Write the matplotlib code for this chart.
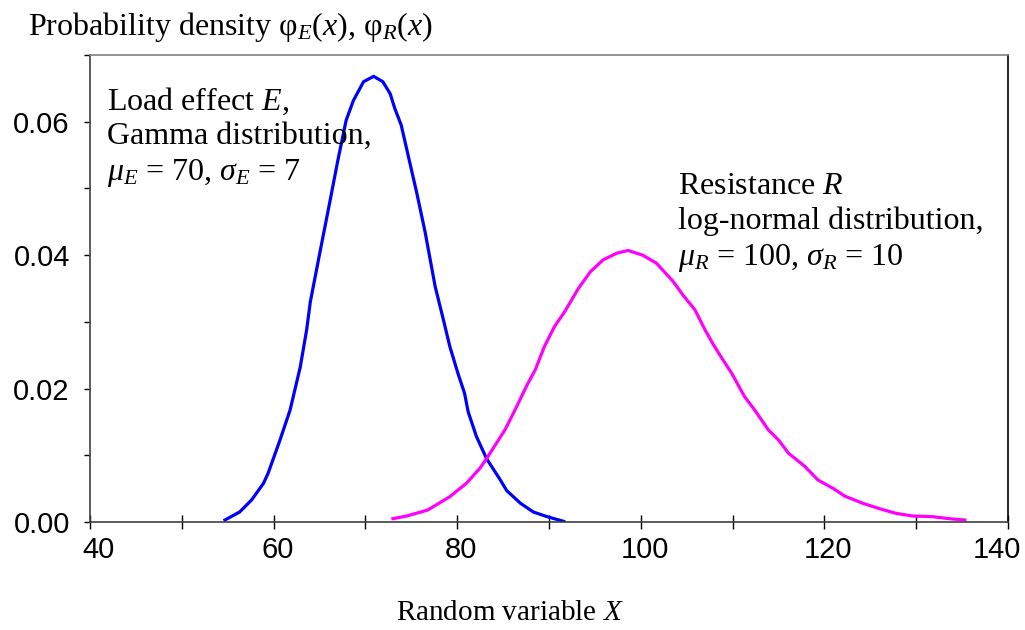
import matplotlib.pyplot as plt
import matplotlib.transforms as mtransforms
from matplotlib.ticker import MultipleLocator

# Load effect E (gamma)
xE = [54.7, 56.3, 57.6, 58.9, 59.4, 60.7, 61.8, 62.9, 63.6, 64.0, 65.1, 66.1,
      67.0, 67.9, 68.7, 69.8, 70.9, 71.9, 72.7, 73.2, 73.9, 74.7, 75.6, 76.5,
      77.6, 78.5, 79.2, 80.1, 80.8, 81.2, 82.1, 83.2, 84.7, 85.4, 86.9,
      88.3, 89.8, 91.6]
yE = [0.0003, 0.0015, 0.0033, 0.0058, 0.0073, 0.0123, 0.0168, 0.0232, 0.0288,
      0.0330, 0.0408, 0.0478, 0.0542, 0.0602, 0.0632, 0.0660, 0.0668, 0.0660,
      0.0642, 0.0620, 0.0595, 0.0547, 0.0493, 0.0435, 0.0353, 0.0303,
      0.0263, 0.0222, 0.0193, 0.0165, 0.0128, 0.0095, 0.0063, 0.0047, 0.0028,
      0.0015, 0.0008, 0.0001]

# Resistance R (log-normal)
xR = [73.0, 74.5, 76.8, 79.2, 81.0, 82.5, 83.2, 85.2, 86.3, 87.6, 88.5, 89.5,
      90.6, 91.7, 93.2, 94.5, 95.9, 97.4, 98.6, 100.2, 101.7, 103.5, 104.6,
      105.9, 107.0, 107.9, 109.0, 109.9, 111.3, 112.4, 113.9, 115.0, 116.1,
      117.9, 119.3, 121.0, 122.2, 124.2, 126.0, 127.8, 129.6, 131.8, 133.6,
      135.3]
yR = [0.0005, 0.0009, 0.0018, 0.0038, 0.0058, 0.0081, 0.0095, 0.0138, 0.0168,
      0.0205, 0.0228, 0.0263, 0.0293, 0.0315, 0.0350, 0.0375, 0.0393, 0.0403,
      0.0407, 0.0400, 0.0388, 0.0361, 0.0340, 0.0318, 0.0288, 0.0266, 0.0242,
      0.0223, 0.0188, 0.0168, 0.0138, 0.0123, 0.0103, 0.0083, 0.0063, 0.0050,
      0.0039, 0.0028, 0.0020, 0.0013, 0.0009, 0.0008, 0.0005, 0.0003]

xTicks = [40, 60, 80, 100, 120, 140]
yTicks = [0.00, 0.02, 0.04, 0.06]

serif = 'Liberation Serif'
sans = 'Liberation Sans'
plt.rcParams['mathtext.fontset'] = 'custom'
plt.rcParams['mathtext.rm'] = serif
plt.rcParams['mathtext.it'] = serif + ':italic'

fig = plt.figure(figsize=(10.25, 6.3), dpi=100)
ax = fig.add_axes([0.0878, 0.1714, 0.8956, 0.7413])

ax.plot(xE, yE, color='#0000ff', linewidth=2.3)
ax.plot(xR, yR, color='#ff00ff', linewidth=2.3)

ax.set_xlim(40, 140)
ax.set_ylim(0, 0.07)
ax.set_xticks(xTicks)
ax.set_xticklabels([str(t) for t in xTicks], fontfamily=sans, fontsize=21)
ax.xaxis.set_minor_locator(MultipleLocator(10))
ax.set_yticks(yTicks)
ax.set_yticklabels(['%.2f' % t for t in yTicks], fontfamily=sans, fontsize=21)
ax.yaxis.set_minor_locator(MultipleLocator(0.01))

ax.tick_params(axis='x', which='both', direction='inout', length=10, width=1, pad=5)
ax.tick_params(axis='y', which='both', direction='out', length=4.5, width=1, pad=10)

# nudge the end labels so they stay inside the figure like the original
shifts = [9, 4, 4, 4, 4, -11]
for lab, dx in zip(ax.get_xticklabels(), shifts):
    lab.set_transform(lab.get_transform() +
                      mtransforms.ScaledTranslation(dx / 100, 0, fig.dpi_scale_trans))

for side in ['left', 'bottom']:
    ax.spines[side].set_color('#404040')
ax.spines['top'].set_color('#808080')
ax.spines['right'].set_color('black')
for s in ax.spines.values():
    s.set_linewidth(1.2)

fig.text(0.027, 0.944, r'Probability density $\mathrm{\varphi}_E(x)$, $\mathrm{\varphi}_R(x)$',
         fontfamily=serif, fontsize=23, va='baseline', ha='left')
fig.text(0.4976, 0.016, r'Random variable $X$', fontfamily=serif, fontsize=21,
         va='baseline', ha='center')

ax.text(0.019, 0.935, 'Load effect $E$,\nGamma distribution,\n$\\mu_E$ = 70, $\\sigma_E$ = 7',
        transform=ax.transAxes, fontfamily=serif, fontsize=23, va='top', ha='left',
        linespacing=1.25)
ax.text(0.6405, 0.75, 'Resistance $R$\nlog-normal distribution,\n$\\mu_R$ = 100, $\\sigma_R$ = 10',
        transform=ax.transAxes, fontfamily=serif, fontsize=23, va='top', ha='left',
        linespacing=1.25)

fig.savefig('out.png', dpi=100)
